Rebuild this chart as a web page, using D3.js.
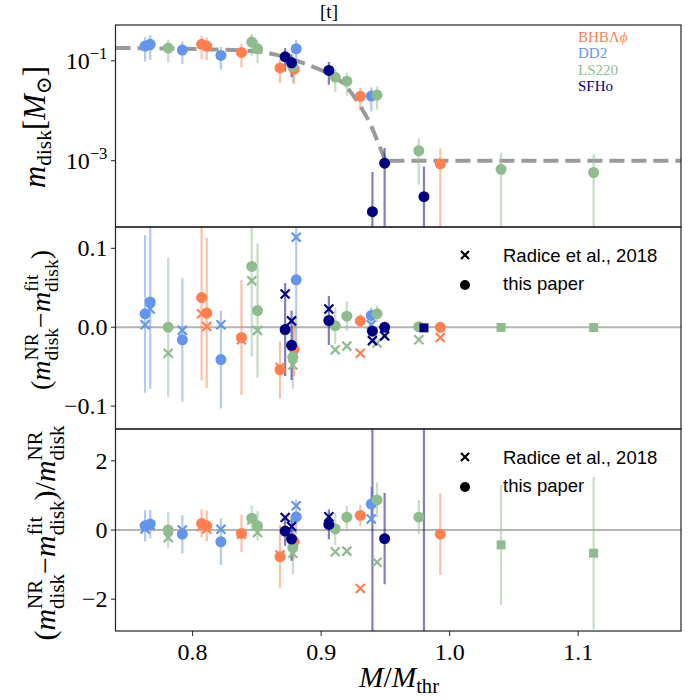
<!DOCTYPE html>
<html><head><meta charset="utf-8">
<script src="https://cdn.jsdelivr.net/npm/d3@7"></script>
<style>
body{margin:0;background:#fff}
svg text{font-family:"Liberation Serif","DejaVu Serif",serif;fill:#000}
</style></head>
<body><svg id="chart" width="698" height="700"></svg>
<script>
// ---------------- data ----------------
const eosNames  = ["BHBΛϕ", "DD2", "LS220", "SFHo"];
const eosColors = ["#FF7F50", "#6495ED", "#8FBC8F", "#000080"];

const massRatio = [0.763,0.767,0.781,0.792,0.807,0.811,0.822,0.838,0.846,0.8505,0.872,0.868,0.877,0.878,0.8806,0.906,0.911,0.920,0.9305,0.939,0.9435,0.9494,0.9399,0.976,0.980,0.9927,1.040,1.112,0.879];
const eosIndex  = [1,1,2,1,0,0,1,0,2,2,3,0,3,2,1,3,2,2,0,1,2,3,3,2,3,0,2,2,0];
const mDisk     = [0.197,0.213,0.180,0.164,0.213,0.197,0.128,0.147,0.237,0.174,0.120,0.072,0.091,0.076,0.174,0.064,0.047,0.039,0.0194,0.0196,0.0206,8.9e-4,9.5e-5,1.58e-3,1.9e-4,8.6e-4,6.7e-4,5.8e-4,0.068];
const mDiskErr  = [0.100,0.110,0.088,0.078,0.105,0.095,0.062,0.073,0.114,0.085,0.059,0.036,0.044,0.040,0.088,0.031,0.023,0.019,0.009,0.010,0.010,9e-4,5e-4,1.25e-3,5.7e-4,9e-4,7.7e-4,7.6e-4,0.034];
const residual  = [0.017,0.032,0.000,-0.016,0.0375,0.018,-0.041,-0.013,0.077,0.021,-0.003,-0.054,-0.023,-0.038,0.060,0.0085,0.002,0.014,0.008,0.015,0.017,-0.0001,-0.005,0.0006,-0.0008,-0.0001,-0.0003,-0.0004,-0.028];
const residualRadice = [0.003,0.023,-0.033,-0.004,0.017,0.001,0.003,-0.016,0.059,-0.004,0.042,-0.051,0.008,-0.048,0.114,0.023,-0.0285,-0.024,-0.033,0.003,-0.020,-0.011,-0.017,-0.016,null,-0.013,null,null,null];
const relResidual    = [0.12,0.17,0.00,-0.12,0.19,0.12,-0.34,-0.10,0.34,0.12,-0.03,-0.77,-0.26,-0.51,0.38,0.16,0.03,0.37,0.42,0.75,0.87,-0.25,-53,0.37,-4.3,-0.12,-0.43,-0.67,-0.33];
const relResidualErr = [0.45,0.41,0.51,0.55,0.40,0.45,0.67,0.54,0.36,0.43,0.43,0.92,0.63,0.77,0.50,0.43,0.47,0.33,0.31,0.50,0.50,1.32,60,0.50,8,1.18,1.73,2.2,0.50];
const relResidualRadice = [0.03,0.14,-0.22,0.00,0.10,0.03,0.02,-0.125,0.29,-0.07,0.36,-0.72,0.10,-0.67,0.70,0.385,-0.63,-0.61,-1.69,0.32,-0.93,null,null,null,null,null,null,null,null];
const squareMarker = [0,0,0,0,0,0,0,0,0,0,0,0,0,0,0,0,0,0,0,0,0,0,0,0,1,0,1,1,0];

const fitX = [0.74,0.814,0.853,0.866,0.888,0.901,0.919,0.931,0.938,0.9456,0.95];
const fitY = [0.18,0.169,0.151,0.13,0.086,0.063,0.0316,0.0117,0.0056,0.0019,0.001];
const fitFloorX = [0.95,1.18];
const fitFloorY = [0.001,0.001];

const xTicks   = [0.8,0.9,1.0,1.1];
const xTickLabels = ["0.8","0.9","1.0","1.1"];
const topTicks = [1e-1,1e-3];
const topTickExp = ["−1","−3"];
const midTicks = [-0.1,0.0,0.1];
const midTickLabels = ["−0.1","0.0","0.1"];
const botTicks = [-2,0,2];
const botTickLabels = ["−2","0","2"];
const legendLabels = ["Radice et al., 2018","this paper"];

// ---------------- layout ----------------
const svg = d3.select("#chart");
const L = 115.5, R = 681;
const x = d3.scaleLinear().domain([0.74,1.18]).range([L,R]);
const yTop = d3.scaleLog().domain([4.7e-5,0.52]).range([227,25]);
const yMid = d3.scaleLinear().domain([-0.129,0.127]).range([429,227]);
const yBot = d3.scaleLinear().domain([-2.92,2.92]).range([631,429]);
const idx = d3.range(massRatio.length);
const order = idx.slice().sort((a,b)=>eosIndex[a]-eosIndex[b]);

function mathText(g, items, size, fam){
  let cx = 0;
  const app = (xx,yy,fs,it,txt)=>{
    const t = g.append("text").attr("x",xx).attr("y",yy).style("font-size",fs+"px")
      .style("font-style",it?"italic":"normal").text(txt);
    if(fam) t.style("font-family",fam);
    return t.node().getComputedTextLength();
  };
  items.forEach(it=>{
    cx += app(cx,0,size,it.it,it.t);
    let w = 0;
    const ss = size*0.7;
    if(it.sup) w=Math.max(w,app(cx,-size*0.42,ss,false,it.sup));
    if(it.sub) w=Math.max(w,app(cx,size*(it.sup?0.3:0.2),ss,false,it.sub));
    cx += w;
  });
  return cx;
}
function fittedMath(parent, items, target, fam){
  const probe = parent.append("g");
  const w0 = mathText(probe, items, 24, fam);
  probe.remove();
  const size = 24*target/w0;
  const g = parent.append("g");
  const w = mathText(g, items, size, fam);
  return {g, w};
}

function panel(top, bottom, id){
  svg.append("clipPath").attr("id",id).append("rect").attr("x",L).attr("y",top).attr("width",R-L).attr("height",bottom-top);
  return svg.append("g").attr("clip-path",`url(#${id})`);
}
const gTop = panel(25,227,"c1");
const gMid = panel(227,429,"c2");
const gBot = panel(429,631,"c3");

gMid.append("line").attr("x1",L).attr("x2",R).attr("y1",yMid(0)).attr("y2",yMid(0)).attr("stroke","#b4b4b4").attr("stroke-width",2);
gBot.append("line").attr("x1",L).attr("x2",R).attr("y1",yBot(0)).attr("y2",yBot(0)).attr("stroke","#b4b4b4").attr("stroke-width",2);

gTop.append("path").datum(fitX.map((v,i)=>[v,fitY[i]]))
  .attr("d",d3.line().x(d=>x(d[0])).y(d=>yTop(d[1])).curve(d3.curveMonotoneX))
  .attr("fill","none").attr("stroke","#9a9a9a").attr("stroke-width",4).attr("stroke-dasharray","15,7");
gTop.append("path").datum(fitFloorX.map((v,i)=>[v,fitFloorY[i]]))
  .attr("d",d3.line().x(d=>x(d[0])).y(d=>yTop(d[1])))
  .attr("fill","none").attr("stroke","#9a9a9a").attr("stroke-width",4).attr("stroke-dasharray","15,7").attr("stroke-dashoffset",-4);

function errBars(g, y, val, err){
  order.forEach(i=>{
    if(val[i]==null) return;
    const lo = val[i]-err[i], hi = val[i]+err[i];
    g.append("line").attr("x1",x(massRatio[i])).attr("x2",x(massRatio[i]))
      .attr("y1", y===yTop && lo<=0 ? 235 : y(lo)).attr("y2", y(hi))
      .attr("stroke",eosColors[eosIndex[i]]).attr("stroke-opacity",0.5).attr("stroke-width",2.2);
  });
}
errBars(gTop,yTop,mDisk,mDiskErr);
errBars(gMid,yMid,residual,mDiskErr);
errBars(gBot,yBot,relResidual,relResidualErr);

function cross(g,cx,cy,col,s){
  g.append("path").attr("d",`M${cx-s},${cy-s}L${cx+s},${cy+s}M${cx-s},${cy+s}L${cx+s},${cy-s}`)
    .attr("stroke",col).attr("stroke-width",2.2).attr("fill","none");
}
function dot(g,cx,cy,col,sq){
  if(sq) g.append("rect").attr("x",cx-4.5).attr("y",cy-4.5).attr("width",9).attr("height",9).attr("fill",col);
  else g.append("circle").attr("cx",cx).attr("cy",cy).attr("r",5.5).attr("fill",col);
}
function markers(g,y,val,valR,useSq){
  [0,1,2,3].forEach(e=>{
    order.filter(i=>eosIndex[i]===e).forEach(i=>{
      const col = eosColors[e];
      if(valR && valR[i]!=null) cross(g,x(massRatio[i]),y(valR[i]),col,4.5);
      dot(g,x(massRatio[i]),y(val[i]),col,useSq && squareMarker[i]);
    });
  });
}
markers(gTop,yTop,mDisk,null,false);
markers(gMid,yMid,residual,residualRadice,true);
markers(gBot,yBot,relResidual,relResidualRadice,true);

[[25,227],[227,429],[429,631]].forEach(([t,b])=>{
  svg.append("rect").attr("x",L).attr("y",t).attr("width",R-L).attr("height",b-t)
    .attr("fill","none").attr("stroke","#222").attr("stroke-width",1.2);
});

const TS = 24;
function yTicksLin(y, ticks, labels){
  ticks.forEach((v,k)=>{
    svg.append("line").attr("x1",L-4.5).attr("x2",L).attr("y1",y(v)).attr("y2",y(v)).attr("stroke","#222").attr("stroke-width",1);
    svg.append("text").attr("x",L-8).attr("y",y(v)).attr("dy","0.34em").attr("text-anchor","end")
      .style("font-size",TS+"px").text(labels[k]);
  });
}
yTicksLin(yMid, midTicks, midTickLabels);
yTicksLin(yBot, botTicks, botTickLabels);
topTicks.forEach((v,k)=>{
  svg.append("line").attr("x1",L-4.5).attr("x2",L).attr("y1",yTop(v)).attr("y2",yTop(v)).attr("stroke","#222").attr("stroke-width",1);
  const g = svg.append("g");
  const w = mathText(g,[{t:"10",sup:topTickExp[k]}],TS);
  g.attr("transform",`translate(${L-8-w},${yTop(v)+8})`);
});
xTicks.forEach((v,k)=>{
  svg.append("line").attr("x1",x(v)).attr("x2",x(v)).attr("y1",631).attr("y2",636).attr("stroke","#222").attr("stroke-width",1);
  svg.append("text").attr("x",x(v)).attr("y",660).attr("text-anchor","middle").style("font-size",TS+"px").text(xTickLabels[k]);
});
{
  const {g,w} = fittedMath(svg,[{t:"M",it:true},{t:"/"},{t:"M",it:true,sub:"thr"}],80);
  g.attr("transform",`translate(${399-w/2},687)`);
}
function yLabel(items, cx, cy, target){
  const outer = svg.append("g").attr("transform",`translate(${cx},${cy}) rotate(-90)`);
  const {g,w} = fittedMath(outer, items, target);
  g.attr("transform",`translate(${-w/2},0)`);
}
yLabel([{t:"m",it:true,sub:"disk"},{t:"["},{t:"M",it:true,sub:"⊙"},{t:"]"}], 45, 127, 122);
yLabel([{t:"("},{t:"m",it:true,sup:"NR",sub:"disk"},{t:" − "},{t:"m",it:true,sup:"fit",sub:"disk"},{t:")"}], 50, 320, 140);
yLabel([{t:"("},{t:"m",it:true,sup:"NR",sub:"disk"},{t:" − "},{t:"m",it:true,sup:"fit",sub:"disk"},{t:")/"},{t:"m",it:true,sup:"NR",sub:"disk"}], 55, 533, 215);

svg.append("text").attr("x",329).attr("y",18).attr("text-anchor","middle").style("font-size","19px").text("[t]");

eosNames.forEach((n,k)=>{
  const t = svg.append("text").attr("x",578).attr("y",41.7+k*16.5).style("font-size","15px").style("fill",eosColors[k]);
  if(k===0){ t.append("tspan").text("BHBΛ"); t.append("tspan").style("font-style","italic").text("ϕ"); }
  else t.text(n);
});
[[255,285],[457,487]].forEach(([y1,y2])=>{
  cross(svg,465,y1,"#000",4);
  svg.append("circle").attr("cx",465).attr("cy",y2).attr("r",5).attr("fill","#000");
  svg.append("text").attr("x",503).attr("y",y1+6.5).style("font-family","'Liberation Sans',sans-serif").style("font-size","18.5px").text(legendLabels[0]);
  svg.append("text").attr("x",503).attr("y",y2+5).style("font-family","'Liberation Sans',sans-serif").style("font-size","18.5px").text(legendLabels[1]);
});
</script></body></html>
